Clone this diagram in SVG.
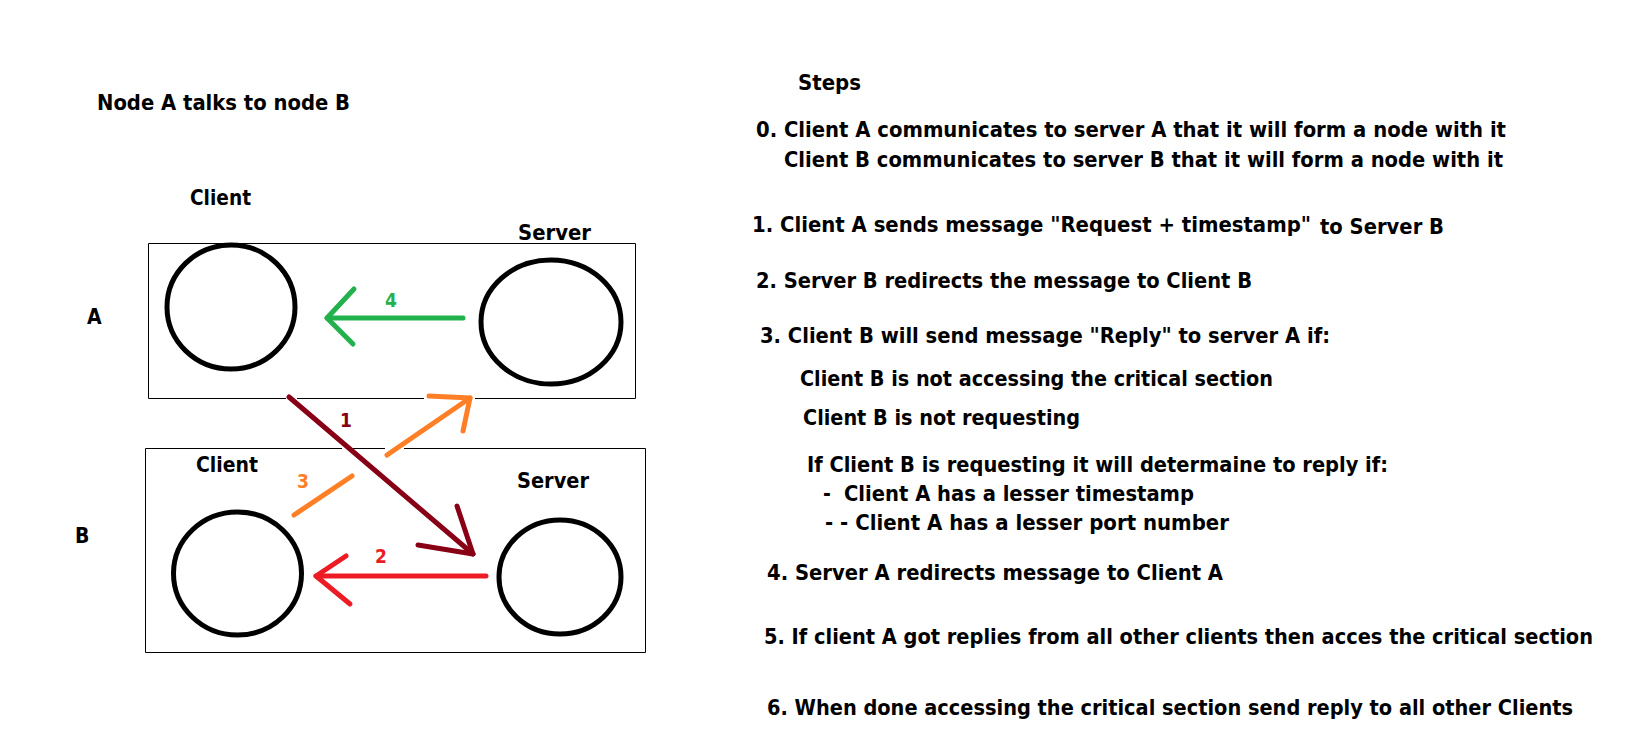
<svg xmlns="http://www.w3.org/2000/svg" width="1630" height="744" viewBox="0 0 1630 744">
<style>
text{font-family:"DejaVu Sans Condensed","DejaVu Sans",sans-serif;font-weight:bold;font-size:21px;fill:#000}
.num{font-size:19px}
.box{fill:none;stroke:#000;stroke-width:1}
.circ{fill:none;stroke:#000;stroke-width:5}
.c{fill:none;stroke-width:5;stroke-linecap:round;stroke-linejoin:round}
</style>
<rect width="1630" height="744" fill="#fff"/>
<text x="97" y="110" textLength="253" lengthAdjust="spacingAndGlyphs">Node A talks to node B</text>
<g id="nodeA">
<path class="box" d="M148.5,243.5 H635.5 V398.5 H475 M424,398.5 H297 M286,398.5 H148.5 V243.5"/>
<text x="87" y="324">A</text>
</g>
<g id="clientA">
<ellipse class="circ" cx="231" cy="307" rx="64" ry="62"/>
<text x="190" y="205" textLength="61" lengthAdjust="spacingAndGlyphs">Client</text>
</g>
<g id="serverA">
<ellipse class="circ" cx="551" cy="322" rx="70" ry="62"/>
<text x="518" y="240" textLength="73" lengthAdjust="spacingAndGlyphs">Server</text>
</g>
<g id="nodeB">
<path class="box" d="M404,448.5 H645.5 V652.5 H145.5 V448.5 H342 M353,448.5 H385"/>
<text x="75" y="543">B</text>
</g>
<g id="clientB">
<ellipse class="circ" cx="237.5" cy="573.5" rx="64" ry="61.5"/>
<text x="196" y="472" textLength="62" lengthAdjust="spacingAndGlyphs">Client</text>
</g>
<g id="serverB">
<ellipse class="circ" cx="560" cy="577" rx="61" ry="57"/>
<text x="517" y="488" textLength="72" lengthAdjust="spacingAndGlyphs">Server</text>
</g>
<g id="connectors">
<g stroke="#880015" class="c">
<path d="M289,397 L473,554"/>
<path d="M457,506 L473,554 L418,545"/>
</g>
<text class="num" x="340" y="427" style="fill:#880015">1</text>
<g stroke="#ed1c24" class="c">
<path d="M486,576 L316,576"/>
<path d="M346,556 L316,576 L350,604"/>
</g>
<text class="num" x="375" y="563" style="fill:#ed1c24">2</text>
<g stroke="#ff7f27" class="c">
<path d="M294,515 L352,476"/>
<path d="M387,455 L470,398"/>
<path d="M429,396 L470,398 L463,431"/>
</g>
<text class="num" x="297" y="488" style="fill:#ff7f27">3</text>
<g stroke="#22b14c" class="c">
<path d="M463,318 L327,318"/>
<path d="M354,289 L327,318 L353,344"/>
</g>
<text class="num" x="385" y="307" style="fill:#22b14c">4</text>
</g>
<g id="steps">
<text x="798" y="90" textLength="63" lengthAdjust="spacingAndGlyphs">Steps</text>
<text x="756" y="137" textLength="750" lengthAdjust="spacingAndGlyphs">0. Client A communicates to server A that it will form a node with it</text>
<text x="784" y="167" textLength="719" lengthAdjust="spacingAndGlyphs">Client B communicates to server B that it will form a node with it</text>
<text x="752" y="232" textLength="559" lengthAdjust="spacingAndGlyphs">1. Client A sends message "Request + timestamp"</text>
<text x="1320" y="234" textLength="124" lengthAdjust="spacingAndGlyphs">to Server B</text>
<text x="756" y="288" textLength="496" lengthAdjust="spacingAndGlyphs">2. Server B redirects the message to Client B</text>
<text x="760" y="343" textLength="570" lengthAdjust="spacingAndGlyphs">3. Client B will send message "Reply" to server A if:</text>
<text x="800" y="386" textLength="473" lengthAdjust="spacingAndGlyphs">Client B is not accessing the critical section</text>
<text x="803" y="425" textLength="277" lengthAdjust="spacingAndGlyphs">Client B is not requesting</text>
<text x="807" y="472" textLength="581" lengthAdjust="spacingAndGlyphs">If Client B is requesting it will determaine to reply if:</text>
<text x="823" y="501">-</text>
<text x="844" y="501" textLength="350" lengthAdjust="spacingAndGlyphs">Client A has a lesser timestamp</text>
<text x="825" y="530" textLength="404" lengthAdjust="spacingAndGlyphs">- - Client A has a lesser port number</text>
<text x="767" y="580" textLength="456" lengthAdjust="spacingAndGlyphs">4. Server A redirects message to Client A</text>
<text x="764" y="644" textLength="829" lengthAdjust="spacingAndGlyphs">5. If client A got replies from all other clients then acces the critical section</text>
<text x="767" y="715" textLength="806" lengthAdjust="spacingAndGlyphs">6. When done accessing the critical section send reply to all other Clients</text>
</g>
</svg>
